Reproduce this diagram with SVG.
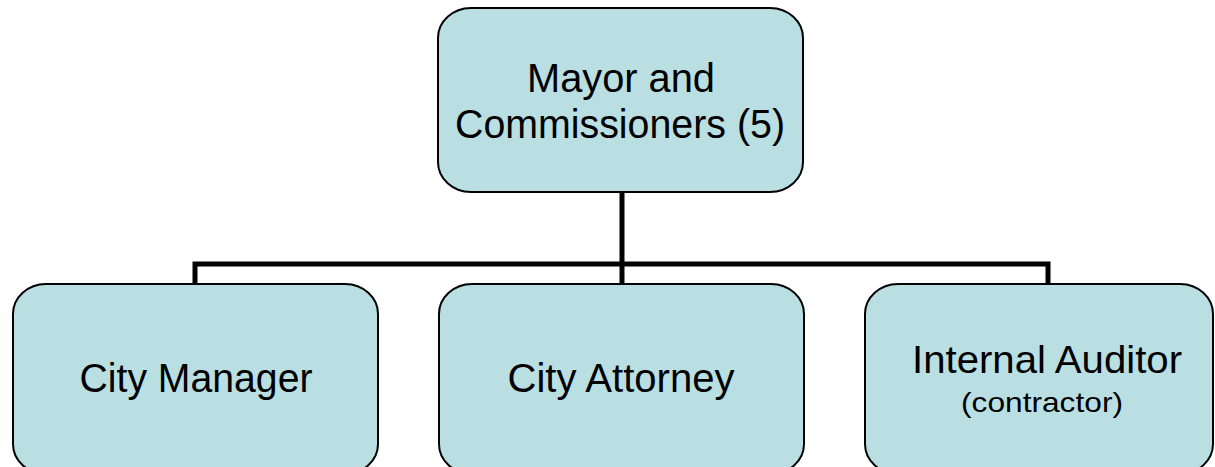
<svg xmlns="http://www.w3.org/2000/svg" width="1215" height="467" viewBox="0 0 1215 467">
<style>
.box{fill:#BADFE3;stroke:#000;stroke-width:2}
.t{font-family:"Liberation Sans",Arial,sans-serif;fill:#000;text-anchor:middle}
.conn{fill:none;stroke:#000;stroke-width:5}
</style>
<rect width="1215" height="467" fill="#fff"/>
<g id="connectors">
<path class="conn" d="M622 192 V284"/>
<path class="conn" d="M195 284 V264 H1048 V284"/>
</g>
<g id="mayor">
<rect class="box" x="438" y="8" width="365" height="184" rx="33" ry="30"/>
<text class="t" x="621" y="92" font-size="40" textLength="188" lengthAdjust="spacingAndGlyphs">Mayor and</text>
<text class="t" x="620" y="138" font-size="40" textLength="330" lengthAdjust="spacingAndGlyphs">Commissioners (5)</text>
</g>
<g id="manager">
<rect class="box" x="13" y="284" width="365" height="190" rx="33" ry="30"/>
<text class="t" x="196" y="392" font-size="40" textLength="233" lengthAdjust="spacingAndGlyphs">City Manager</text>
</g>
<g id="attorney">
<rect class="box" x="439" y="284" width="365" height="190" rx="33" ry="30"/>
<text class="t" x="621" y="392" font-size="40" textLength="227" lengthAdjust="spacingAndGlyphs">City Attorney</text>
</g>
<g id="auditor">
<rect class="box" x="865" y="284" width="348" height="190" rx="33" ry="30"/>
<text class="t" x="1047" y="373" font-size="39" textLength="270" lengthAdjust="spacingAndGlyphs">Internal Auditor</text>
<text class="t" x="1042" y="412" font-size="28" textLength="162" lengthAdjust="spacingAndGlyphs">(contractor)</text>
</g>
</svg>
